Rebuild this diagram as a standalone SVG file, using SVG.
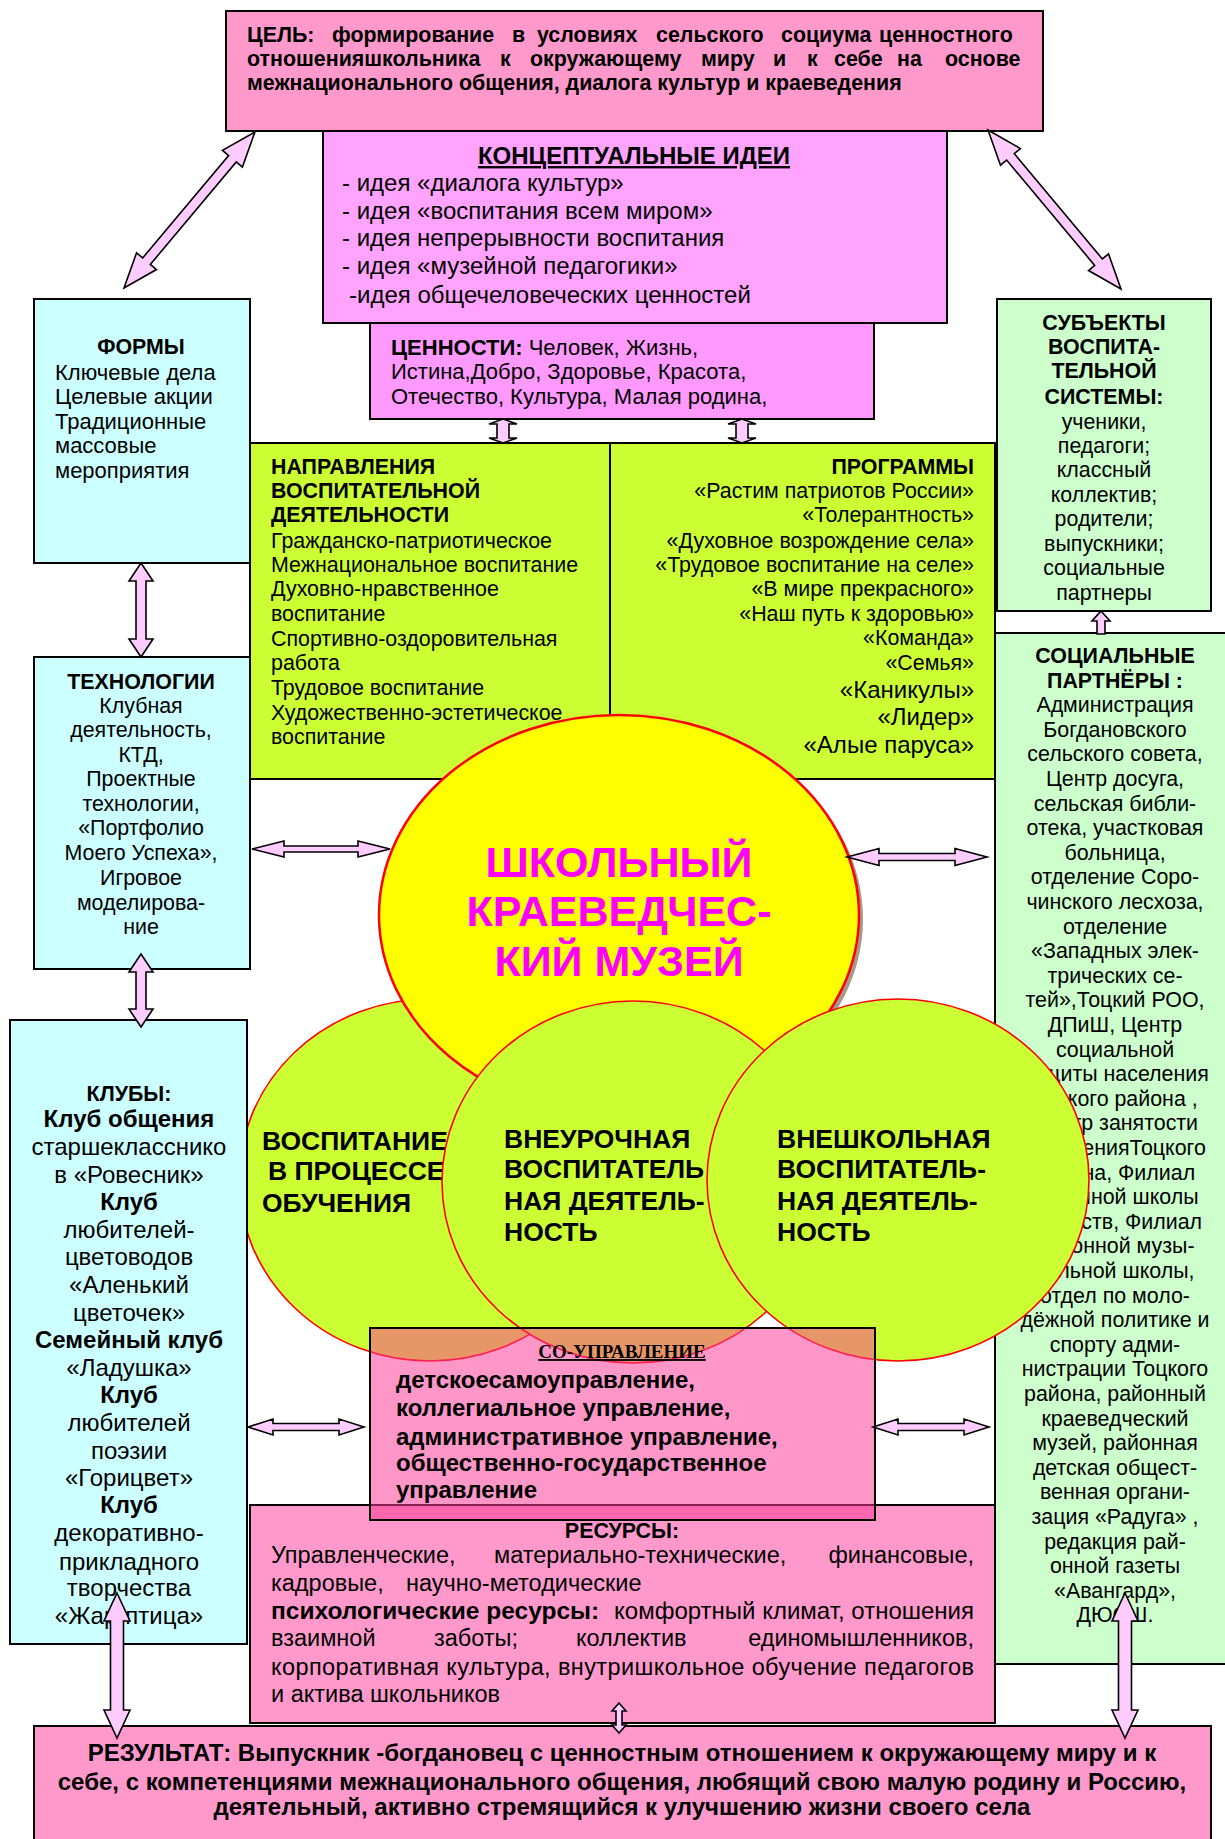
<svg xmlns="http://www.w3.org/2000/svg" width="1225" height="1839" viewBox="0 0 1225 1839">
<style>
.t{font-family:"Liberation Sans",Arial,sans-serif;font-size:21.4px;fill:#000}
.b{font-weight:bold}
.c{text-anchor:middle}
.e{text-anchor:end}
.bx{stroke:#000;stroke-width:2}
.ar{fill:#FFCCFF;stroke:#000;stroke-width:1.6;stroke-linejoin:miter}
.gc{fill:#CCFF33;stroke:#FF0000;stroke-width:1.6}
.ct{font-family:"Liberation Sans",Arial,sans-serif;font-size:26.5px;font-weight:bold;fill:#000}
.k{font-size:24px}
</style>
<rect width="1225" height="1839" fill="#fff"/>

<g id="goal">
<rect class="bx" x="226" y="11" width="817" height="120" fill="#FF99CC"/>
<text class="t b" y="42"><tspan x="247">ЦЕЛЬ:</tspan><tspan x="332">формирование</tspan><tspan x="512">в</tspan><tspan x="537">условиях</tspan><tspan x="656">сельского</tspan><tspan x="781">социума</tspan><tspan x="879">ценностного</tspan></text>
<text class="t b" y="66"><tspan x="247">отношенияшкольника</tspan><tspan x="500">к</tspan><tspan x="530">окружающему</tspan><tspan x="701">миру</tspan><tspan x="773">и</tspan><tspan x="807">к</tspan><tspan x="834">себе</tspan><tspan x="897">на</tspan><tspan x="945">основе</tspan></text>
<text class="t b" x="247" y="90">межнационального общения, диалога культур и краеведения</text>
</g>

<g id="ideas">
<rect class="bx" x="323" y="131" width="624" height="192" fill="#FFA3FF"/>
<text class="t b c" x="634" y="164" style="font-size:24px" text-decoration="underline">КОНЦЕПТУАЛЬНЫЕ ИДЕИ</text>
<g class="t" style="font-size:24px">
<text x="342" y="191">- идея «диалога культур»</text>
<text x="342" y="219">- идея «воспитания всем миром»</text>
<text x="342" y="246">- идея непрерывности воспитания</text>
<text x="342" y="274">- идея «музейной педагогики»</text>
<text x="349" y="303">-идея общечеловеческих ценностей</text>
</g>
</g>

<g id="values">
<rect class="bx" x="370" y="323" width="504" height="96" fill="#FF99FF"/>
<g class="t" style="font-size:22px">
<text x="391" y="355"><tspan class="b">ЦЕННОСТИ:</tspan>  Человек,  Жизнь,</text>
<text x="391" y="379">Истина,Добро,  Здоровье, Красота,</text>
<text x="391" y="404">Отечество,  Культура, Малая родина,</text>
</g>
</g>

<g id="directions">
<rect class="bx" x="250" y="443" width="360" height="336" fill="#CCFF33"/>
<g class="t">
<text class="b" x="271" y="474">НАПРАВЛЕНИЯ</text>
<text class="b" x="271" y="498">ВОСПИТАТЕЛЬНОЙ</text>
<text class="b" x="271" y="522">ДЕЯТЕЛЬНОСТИ</text>
<text x="271" y="548">Гражданско-патриотическое</text>
<text x="271" y="572">Межнациональное воспитание</text>
<text x="271" y="596">Духовно-нравственное</text>
<text x="271" y="621">воспитание</text>
<text x="271" y="646">Спортивно-оздоровительная</text>
<text x="271" y="670">работа</text>
<text x="271" y="695">Трудовое воспитание</text>
<text x="271" y="720">Художественно-эстетическое</text>
<text x="271" y="744">воспитание</text>
</g>
</g>

<g id="programs">
<rect class="bx" x="610" y="443" width="385" height="336" fill="#CCFF33"/>
<g class="t e">
<text class="b" x="974" y="474">ПРОГРАММЫ</text>
<text x="974" y="498">«Растим патриотов России»</text>
<text x="974" y="522">«Толерантность»</text>
<text x="974" y="548">«Духовное возрождение села»</text>
<text x="974" y="572">«Трудовое воспитание  на селе»</text>
<text x="974" y="596">«В мире прекрасного»</text>
<text x="974" y="621">«Наш  путь к здоровью»</text>
<text x="974" y="645">«Команда»</text>
<text x="974" y="670">«Семья»</text>
<text x="974" y="698" style="font-size:24px">«Каникулы»</text>
<text x="974" y="725" style="font-size:24px">«Лидер»</text>
<text x="974" y="753" style="font-size:24px">«Алые паруса»</text>
</g>
</g>

<g id="forms">
<rect class="bx" x="34" y="299" width="216" height="264" fill="#CCFFFF"/>
<text class="t b c" x="141" y="354">ФОРМЫ</text>
<g class="t" style="font-size:22px">
<text x="55" y="380">Ключевые  дела</text>
<text x="55" y="404">Целевые акции</text>
<text x="55" y="429">Традиционные</text>
<text x="55" y="453">массовые</text>
<text x="55" y="478">мероприятия</text>
</g>
</g>

<g id="subjects">
<rect class="bx" x="997" y="299" width="214" height="312" fill="#CCFFCC"/>
<g class="t c">
<text class="b" x="1104" y="330">СУБЪЕКТЫ</text>
<text class="b" x="1104" y="354">ВОСПИТА-</text>
<text class="b" x="1104" y="378">ТЕЛЬНОЙ</text>
<text class="b" x="1104" y="404">СИСТЕМЫ:</text>
<text x="1104" y="429">ученики,</text>
<text x="1104" y="453">педагоги;</text>
<text x="1104" y="477">классный</text>
<text x="1104" y="502">коллектив;</text>
<text x="1104" y="526">родители;</text>
<text x="1104" y="551">выпускники;</text>
<text x="1104" y="575">социальные</text>
<text x="1104" y="600">партнеры</text>
</g>
</g>

<g id="tech">
<rect class="bx" x="34" y="657" width="216" height="312" fill="#CCFFFF"/>
<g class="t c">
<text class="b" x="141" y="689">ТЕХНОЛОГИИ</text>
<text x="141" y="713">Клубная</text>
<text x="141" y="737">деятельность,</text>
<text x="141" y="762">КТД,</text>
<text x="141" y="786">Проектные</text>
<text x="141" y="811">технологии,</text>
<text x="141" y="835">«Портфолио</text>
<text x="141" y="860">Моего Успеха»,</text>
<text x="141" y="885">Игровое</text>
<text x="141" y="910">моделирова-</text>
<text x="141" y="934">ние</text>
</g>
</g>

<g id="partners">
<rect class="bx" x="995" y="633" width="240" height="1031" fill="#CCFFCC"/>
<g class="t c">
<text class="b" x="1115" y="663">СОЦИАЛЬНЫЕ</text>
<text class="b" x="1115" y="688">ПАРТНЁРЫ :</text>
<text x="1115" y="712">Администрация</text>
<text x="1115" y="737">Богдановского</text>
<text x="1115" y="761">сельского совета,</text>
<text x="1115" y="786">Центр досуга,</text>
<text x="1115" y="811">сельская библи-</text>
<text x="1115" y="835">отека, участковая</text>
<text x="1115" y="860">больница,</text>
<text x="1115" y="884">отделение Соро-</text>
<text x="1115" y="909">чинского лесхоза,</text>
<text x="1115" y="934">отделение</text>
<text x="1115" y="958">«Западных элек-</text>
<text x="1115" y="983">трических се-</text>
<text x="1115" y="1007">тей»,Тоцкий РОО,</text>
<text x="1115" y="1032">ДПиШ, Центр</text>
<text x="1115" y="1057">социальной</text>
<text x="1115" y="1081">защиты населения</text>
<text x="1115" y="1106">Тоцкого района ,</text>
<text x="1115" y="1130">Центр занятости</text>
<text x="1115" y="1155">населенияТоцкого</text>
<text x="1115" y="1180">района, Филиал</text>
<text x="1115" y="1204">районной школы</text>
<text x="1115" y="1229">искусств, Филиал</text>
<text x="1115" y="1253">районной музы-</text>
<text x="1115" y="1278">кальной школы,</text>
<text x="1115" y="1303">отдел по моло-</text>
<text x="1115" y="1327">дёжной политике  и</text>
<text x="1115" y="1352">спорту адми-</text>
<text x="1115" y="1376">нистрации Тоцкого</text>
<text x="1115" y="1401">района, районный</text>
<text x="1115" y="1426">краеведческий</text>
<text x="1115" y="1450">музей, районная</text>
<text x="1115" y="1475">детская общест-</text>
<text x="1115" y="1499">венная органи-</text>
<text x="1115" y="1524">зация «Радуга» ,</text>
<text x="1115" y="1549">редакция рай-</text>
<text x="1115" y="1573">онной газеты</text>
<text x="1115" y="1598">«Авангард»,</text>
<text x="1115" y="1622">ДЮСШ.</text>
</g>
</g>

<g id="resources">
<rect class="bx" x="250" y="1505" width="745" height="218" fill="#FF99CC"/>
<text class="t b c" x="622" y="1538">РЕСУРСЫ:</text>
<g class="t" style="font-size:23.5px">
<text x="271" y="1563">Управленческие,</text>
<text x="494" y="1563">материально-технические,</text>
<text class="e" x="974" y="1563">финансовые,</text>
<text x="271" y="1591">кадровые,</text>
<text x="406" y="1591">научно-методические</text>
<text class="b" x="271" y="1619" style="font-size:24.5px">психологические ресурсы:</text>
<text class="e" x="974" y="1619" style="font-size:24px">комфортный климат, отношения</text>
<text x="271" y="1646">взаимной</text>
<text x="434" y="1646">заботы;</text>
<text x="576" y="1646">коллектив</text>
<text class="e" x="974" y="1646">единомышленников,</text>
<text x="271" y="1675" textLength="703" lengthAdjust="spacing">корпоративная культура, внутришкольное обучение педагогов</text>
<text x="271" y="1702">и актива школьников</text>
</g>
</g>

<g id="circle-school">
<ellipse class="gc" cx="430" cy="1180" rx="191" ry="181"/>
<text class="ct" x="262" y="1150">ВОСПИТАНИЕ</text>
<text class="ct" x="268" y="1180">В ПРОЦЕССЕ</text>
<text class="ct" x="262" y="1212">ОБУЧЕНИЯ</text>
</g>

<g id="museum">
<ellipse cx="623" cy="919" rx="240" ry="200" fill="#A89888"/>
<ellipse cx="619" cy="915" rx="240" ry="200" fill="#FFFF00" stroke="#FF0000" stroke-width="2.5"/>
<g font-family="Liberation Sans,Arial,sans-serif" font-size="43" font-weight="bold" fill="#FF00FF" text-anchor="middle">
<text x="619" y="877">ШКОЛЬНЫЙ</text>
<text x="619" y="926">КРАЕВЕДЧЕС-</text>
<text x="619" y="976">КИЙ МУЗЕЙ</text>
</g>
</g>

<g id="circle-extra">
<ellipse class="gc" cx="633" cy="1182" rx="191" ry="181"/>
<text class="ct" x="504" y="1148">ВНЕУРОЧНАЯ</text>
<text class="ct" x="504" y="1178">ВОСПИТАТЕЛЬ</text>
<text class="ct" x="504" y="1210">НАЯ ДЕЯТЕЛЬ-</text>
<text class="ct" x="504" y="1241">НОСТЬ</text>
</g>

<g id="circle-outside">
<ellipse class="gc" cx="898" cy="1180" rx="191" ry="181"/>
<text class="ct" x="777" y="1148">ВНЕШКОЛЬНАЯ</text>
<text class="ct" x="777" y="1178">ВОСПИТАТЕЛЬ-</text>
<text class="ct" x="777" y="1210">НАЯ ДЕЯТЕЛЬ-</text>
<text class="ct" x="777" y="1241">НОСТЬ</text>
</g>

<g id="clubs">
<rect class="bx" x="10" y="1020" width="237" height="624" fill="#CCFFFF"/>
<g class="t k c">
<text class="b" x="129" y="1101" style="font-size:21.4px">КЛУБЫ:</text>
<text class="b" x="129" y="1127">Клуб общения</text>
<text x="129" y="1155">старшекласснико</text>
<text x="129" y="1183">в «Ровесник»</text>
<text class="b" x="129" y="1210">Клуб</text>
<text x="129" y="1238">любителей-</text>
<text x="129" y="1265">цветоводов</text>
<text x="129" y="1293">«Аленький</text>
<text x="129" y="1321">цветочек»</text>
<text class="b" x="129" y="1348">Семейный клуб</text>
<text x="129" y="1376">«Ладушка»</text>
<text class="b" x="129" y="1403">Клуб</text>
<text x="129" y="1431">любителей</text>
<text x="129" y="1459">поэзии</text>
<text x="129" y="1486">«Горицвет»</text>
<text class="b" x="129" y="1513">Клуб</text>
<text x="129" y="1541">декоративно-</text>
<text x="129" y="1570">прикладного</text>
<text x="129" y="1596">творчества</text>
<text x="129" y="1624">«Жар-птица»</text>
</g>
</g>

<g id="selfgov">
<rect x="370" y="1328" width="505" height="192" fill="rgb(255,57,151)" fill-opacity="0.53" stroke="#000" stroke-width="2"/>
<text x="622" y="1358" font-family="Liberation Serif,Times New Roman,serif" font-size="19" font-weight="bold" text-anchor="middle" text-decoration="underline">СО-УПРАВЛЕНИЕ</text>
<g class="t b" style="font-size:24px">
<text x="396" y="1388">детскоесамоуправление,</text>
<text x="396" y="1416">коллегиальное управление,</text>
<text x="396" y="1445">административное управление,</text>
<text x="396" y="1471">общественно-государственное</text>
<text x="396" y="1498">управление</text>
</g>
</g>

<g id="result">
<rect class="bx" x="34" y="1726" width="1177" height="120" fill="#FF99CC"/>
<g class="t b c" style="font-size:24px">
<text x="622" y="1761">РЕЗУЛЬТАТ: Выпускник -богдановец с ценностным отношением к окружающему миру и к</text>
<text x="622" y="1790">себе, с компетенциями межнационального общения, любящий свою малую родину и Россию,</text>
<text x="622" y="1815">деятельный, активно стремящийся к улучшению жизни своего села</text>
</g>
</g>

<g id="connectors">
<polygon class="ar" transform="translate(124,288) rotate(-50)" points="0,0 35,-13 35,-5 168.7,-5 168.7,-13 203.7,0 168.7,13 168.7,5 35,5 35,13"/>
<polygon class="ar" transform="translate(988,130) rotate(50.1)" points="0,0 35,-13 35,-5 172.3,-5 172.3,-13 207.3,0 172.3,13 172.3,5 35,5 35,13"/>
<polygon class="ar" points="503,419 517,424 509,424 509,438 517,438 503,443 489,438 497,438 497,424 489,424"/>
<polygon class="ar" points="742,419 756,424 748,424 748,438 756,438 742,443 728,438 736,438 736,424 728,424"/>
<polygon class="ar" points="141,563 153,581 146,581 146,639 153,639 141,657 129,639 136,639 136,581 129,581"/>
<polygon class="ar" points="141,954 153,972 146,972 146,1009 153,1009 141,1027 129,1009 136,1009 136,972 129,972"/>
<polygon class="ar" points="252,849 284,841 284,846 358,846 358,841 390,849 358,857 358,852 284,852 284,857"/>
<polygon class="ar" points="847,857 879,848.5 879,853.5 955,853.5 955,848.5 987,857 955,865.5 955,860.5 879,860.5 879,865.5"/>
<polygon class="ar" points="248,1427 273,1419 273,1423.5 339,1423.5 339,1419 364,1427 339,1435 339,1430.5 273,1430.5 273,1435"/>
<polygon class="ar" points="873,1427 898,1419 898,1423.5 964,1423.5 964,1419 989,1427 964,1435 964,1430.5 898,1430.5 898,1435"/>
<polygon class="ar" points="1101,611 1110,621 1105,621 1105,634 1097,634 1097,621 1092,621"/>
<polygon class="ar" points="117,1593 130,1621 123.5,1621 123.5,1710 130,1710 117,1738 104,1710 110.5,1710 110.5,1621 104,1621"/>
<polygon class="ar" points="1125,1593 1138,1621 1131.5,1621 1131.5,1710 1138,1710 1125,1738 1112,1710 1118.5,1710 1118.5,1621 1112,1621"/>
<polygon class="ar" points="619,1703 626,1711 622,1711 622,1725 626,1725 619,1733 612,1725 616,1725 616,1711 612,1711"/>
</g>
</svg>
